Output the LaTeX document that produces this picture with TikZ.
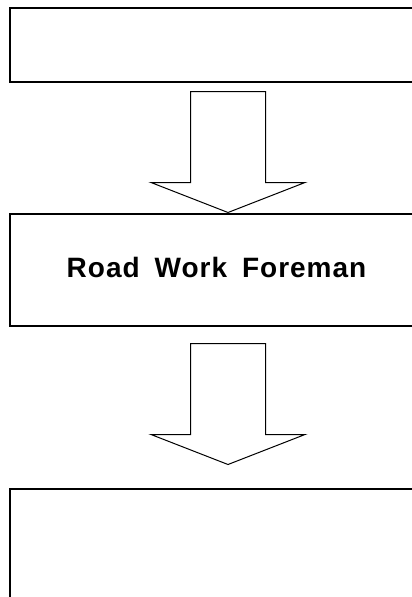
\documentclass[tikz,border=0pt]{standalone}
\usepackage{fontspec}
\setmainfont{Liberation Sans}
\newfontfamily\labelfont[LetterSpace=3.5]{Liberation Sans}
\usetikzlibrary{calc}
\tikzset{
  box/.style={draw=black, line width=1.5pt, rectangle, inner sep=0pt, anchor=north west},
  arrowline/.style={draw=black, line width=1pt, fill=white, line join=miter},
  blockarrow/.pic={\path[arrowline] (-37.5,0) -- (37.5,0) -- (37.5,91) -- (77,91) -- (0,121) -- (-77,91) -- (-37.5,91) -- cycle;},
  label/.style={font=\labelfont\bfseries\fontsize{28}{30}\selectfont, inner sep=0pt, anchor=base}
}
\begin{document}
\begin{tikzpicture}[x=1pt,y=-1pt]
\useasboundingbox (0,0) rectangle (412,597);
\clip (0,0) rectangle (412,597);
\fill[white] (0,0) rectangle (412,597);
\node[box, minimum width=411pt, minimum height=74pt] (b1) at (9,7) {};
\node[box, minimum width=411pt, minimum height=112pt] (b2) at (9,213) {};
\node[box, minimum width=411pt, minimum height=130pt] (b3) at (9,488) {};
\node[label] (t2) at (216.5,277.3) {Road\hspace{15pt}Work\hspace{15pt}Foreman};
\coordinate (a1) at ($(b1.south west)+(219,9)$);
\coordinate (a2) at ($(b2.south west)+(219,17)$);
\pic at (a1) {blockarrow};
\pic at (a2) {blockarrow};
\end{tikzpicture}
\end{document}
